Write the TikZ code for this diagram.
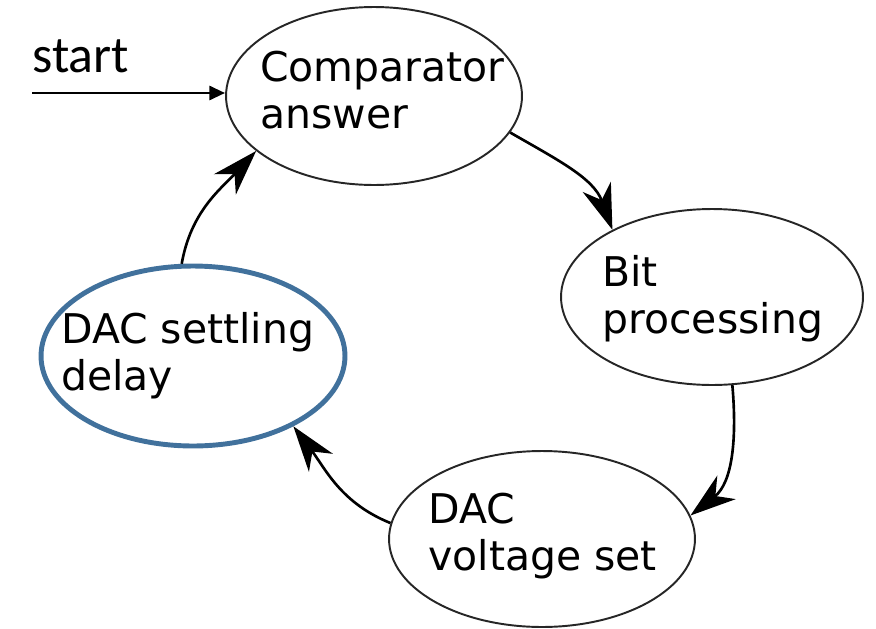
\documentclass[tikz,border=0pt]{standalone}
\usepackage{fontspec}
\newfontfamily\dejavu{DejaVu Sans}
\newfontfamily\carlito{Carlito}
\usepackage{xcolor}
\usepackage{tikz}
\usetikzlibrary{arrows.meta,shapes.geometric}
\definecolor{curblue}{RGB}{65,113,156}
\tikzset{
  state/.style={ellipse,draw=black!85,line width=1.1pt,minimum width=6.04cm,minimum height=3.52cm,inner sep=0pt},
  curstate/.style={state,draw=curblue,line width=2.8pt},
  txt/.style={align=left,inner sep=0pt,anchor=base west,font=\dejavu\fontsize{23.3}{26.7}\selectfont},
  flow/.style={-{Stealth[length=26pt,width=17pt,inset=8pt]},line width=1.5pt},
}
\begin{document}
\begin{tikzpicture}[x=0.02cm,y=-0.02cm,line join=round]
  \useasboundingbox (0,0) rectangle (876,629);
  \node[state,minimum width=5.92cm,minimum height=3.56cm] (cmp) at (374,96) {};
  \node[state] (bit) at (712,297) {};
  \node[state,minimum width=6.12cm] (dv) at (542,539) {};
  \node[curstate,minimum width=6.08cm,minimum height=3.6cm] (dsd) at (193,356) {};
  \node[txt] (cmpt) at (260,128) {Comparator\\answer};
  \node[txt] (bitt) at (602,333) {Bit\\processing};
  \node[txt] (dvt) at (428,570) {DAC\\voltage set};
  \node[txt] (dsdt) at (61,390) {DAC settling\\delay};
  \node[anchor=base west,inner sep=0pt,font=\carlito\fontsize{29.5}{34}\selectfont] (st) at (32,72) {start};
  \coordinate (s0) at (32,93);
  \draw[-{Triangle[length=9pt,width=8pt]},line width=1.7pt] (s0) -- (s0 -| cmp.west);
  \draw[flow] (cmp.-15) to[out=-30,in=110] (bit.146);
  \draw[flow] (bit.-77) to[out=-85,in=38] (dv.9);
  \draw[flow] (dv.174) to[out=158,in=-53] (dsd.-35);
  \draw[flow] (dsd.97) to[out=80,in=-133] (cmp.205);
\end{tikzpicture}
\end{document}
